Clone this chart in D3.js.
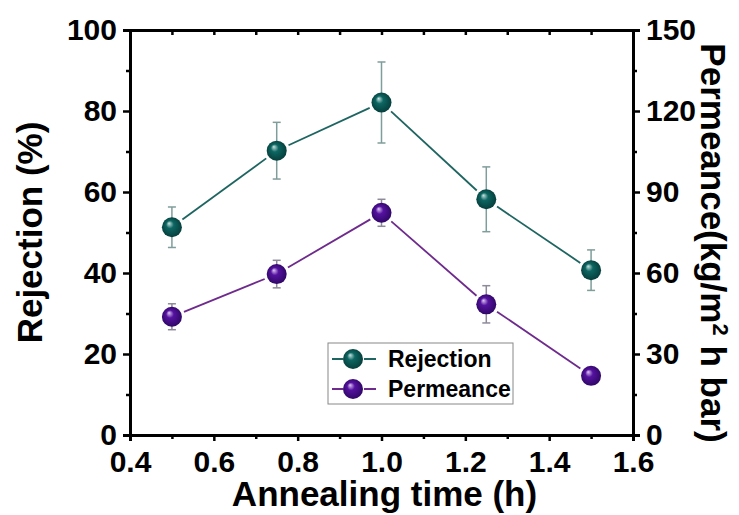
<!DOCTYPE html>
<html>
<head>
<meta charset="utf-8">
<script src="https://cdn.jsdelivr.net/npm/d3@7"></script>
<style>
  body { margin: 0; background: #fff; }
  svg { font-family: "Liberation Sans", Arial, sans-serif; font-weight: bold; }
</style>
</head>
<body>
<div id="chart"></div>
<script>
// data
let times = [0.5, 0.75, 1.0, 1.25, 1.5];
let rejection = [51.3, 70.2, 82.1, 58.2, 40.7];
let rejectionErr = [5, 7, 10, 8, 5];
let permeance = [43.8, 59.6, 82.3, 48.4, 21.9];
let permeanceErr = [4.8, 5.1, 5, 6.9, 0.8];
let xTicks = [0.4, 0.6, 0.8, 1.0, 1.2, 1.4, 1.6];
let leftTicks = [0, 20, 40, 60, 80, 100];
let rightTicks = [0, 30, 60, 90, 120, 150];

let W = 739, H = 515;
let m = {left: 130, top: 30, right: 106, bottom: 80};
let w = W - m.left - m.right, h = H - m.top - m.bottom;
let r = 10;

let svg = d3.select("#chart").append("svg").attr("width", W).attr("height", H);

let defs = svg.append("defs");
function sphere(id, light, base, dark) {
  let g = defs.append("radialGradient").attr("id", id)
    .attr("cx", "50%").attr("cy", "50%").attr("r", "55%")
    .attr("fx", "35%").attr("fy", "30%");
  g.append("stop").attr("offset", "0%").attr("stop-color", light);
  g.append("stop").attr("offset", "35%").attr("stop-color", base);
  g.append("stop").attr("offset", "100%").attr("stop-color", dark);
}
sphere("gRej", "#c8e4e2", "#0d6662", "#053a38");
sphere("gPer", "#e0c8f4", "#5512a0", "#2c0660");

let x = d3.scaleLinear().domain([0.4, 1.6]).range([m.left, m.left + w]);
let yL = d3.scaleLinear().domain([0, 100]).range([m.top + h, m.top]);
let yR = d3.scaleLinear().domain([0, 150]).range([m.top + h, m.top]);

// minor ticks
let xMinor = d3.range(0.5, 1.6, 0.2);
let lMinor = d3.range(10, 100, 20);
let rMinor = d3.range(15, 150, 30);

function styleAxis(g) {
  g.selectAll(".domain").attr("stroke-width", 3);
  g.selectAll(".tick line").attr("stroke-width", 2.5);
  g.selectAll(".tick text").attr("font-size", 30).attr("font-weight", "bold");
}

// bottom
svg.append("g").attr("transform", `translate(0,${m.top + h})`)
  .call(d3.axisBottom(x).tickValues(xTicks).tickFormat(d3.format(".1f")).tickSizeOuter(0).tickSize(6).tickPadding(10))
  .call(styleAxis);
svg.append("g").attr("transform", `translate(0,${m.top + h})`)
  .call(d3.axisBottom(x).tickValues(xMinor).tickFormat("").tickSizeOuter(0).tickSize(4))
  .call(g => g.select(".domain").remove())
  .call(styleAxis);
// top
svg.append("g").attr("transform", `translate(0,${m.top})`)
  .call(d3.axisBottom(x).tickValues(xTicks.concat(xMinor)).tickFormat("").tickSizeOuter(0).tickSize(5))
  .call(styleAxis);
// left
svg.append("g").attr("transform", `translate(${m.left},0)`)
  .call(d3.axisLeft(yL).tickValues(leftTicks).tickSizeOuter(0).tickSize(7).tickPadding(6))
  .call(styleAxis);
svg.append("g").attr("transform", `translate(${m.left},0)`)
  .call(d3.axisLeft(yL).tickValues(lMinor).tickFormat("").tickSizeOuter(0).tickSize(4))
  .call(g => g.select(".domain").remove())
  .call(styleAxis);
// right
svg.append("g").attr("transform", `translate(${m.left + w},0)`)
  .call(d3.axisRight(yR).tickValues(rightTicks).tickSizeOuter(0).tickSize(7).tickPadding(6))
  .call(styleAxis);
svg.append("g").attr("transform", `translate(${m.left + w},0)`)
  .call(d3.axisRight(yR).tickValues(rMinor).tickFormat("").tickSizeOuter(0).tickSize(4))
  .call(g => g.select(".domain").remove())
  .call(styleAxis);

// titles
svg.append("text").attr("x", x(1.0) + 3).attr("y", 506).attr("text-anchor", "middle")
  .attr("font-size", 35).text("Annealing time (h)");
svg.append("text").attr("transform", `translate(42,${m.top + h / 2}) rotate(-90)`)
  .attr("text-anchor", "middle").attr("font-size", 35).text("Rejection (%)");
let rt = svg.append("text").attr("transform", `translate(701,243) rotate(90)`)
  .attr("text-anchor", "middle").attr("font-size", 35);
rt.append("tspan").text("Permeance(kg/m");
rt.append("tspan").attr("baseline-shift", "super").attr("font-size", 22).text("2");
rt.append("tspan").text(" h bar)");

// series
let series = [
  {name: "Rejection", vals: rejection, err: rejectionErr, y: yL, line: "#1e6561", errc: "#7f9d9a", grad: "gRej"},
  {name: "Permeance", vals: permeance, err: permeanceErr, y: yR, line: "#6e2a8c", errc: "#8e8a9a", grad: "gPer"}
];

series.forEach(s => {
  let pts = times.map((t, i) => [x(t), s.y(s.vals[i])]);
  // connecting segments stopping short of the markers
  for (let i = 0; i < pts.length - 1; i++) {
    let [x1, y1] = pts[i], [x2, y2] = pts[i + 1];
    let dx = x2 - x1, dy = y2 - y1, len = Math.hypot(dx, dy), gap = r + 3;
    svg.append("line")
      .attr("x1", x1 + dx / len * gap).attr("y1", y1 + dy / len * gap)
      .attr("x2", x2 - dx / len * gap).attr("y2", y2 - dy / len * gap)
      .attr("stroke", s.line).attr("stroke-width", 1.8);
  }
  // error bars
  let eb = svg.append("g").attr("stroke", s.errc).attr("stroke-width", 1.5);
  times.forEach((t, i) => {
    let lo = s.y(s.vals[i] - s.err[i]), hi = s.y(s.vals[i] + s.err[i]);
    eb.append("line").attr("x1", x(t)).attr("x2", x(t)).attr("y1", lo).attr("y2", hi);
    eb.append("line").attr("x1", x(t) - 4).attr("x2", x(t) + 4).attr("y1", lo).attr("y2", lo);
    eb.append("line").attr("x1", x(t) - 4).attr("x2", x(t) + 4).attr("y1", hi).attr("y2", hi);
  });
  svg.append("g").selectAll("circle").data(times).enter().append("circle")
    .attr("cx", d => x(d)).attr("cy", (d, i) => s.y(s.vals[i])).attr("r", r)
    .attr("fill", `url(#${s.grad})`);
});

// legend
let lg = svg.append("g").attr("transform", "translate(328,343)");
lg.append("rect").attr("width", 185).attr("height", 61)
  .attr("fill", "#fff").attr("stroke", "#888").attr("stroke-width", 1);
series.forEach((s, i) => {
  let cy = 16 + i * 30;
  lg.append("line").attr("x1", 4).attr("x2", 15).attr("y1", cy).attr("y2", cy).attr("stroke", s.line).attr("stroke-width", 2);
  lg.append("line").attr("x1", 36).attr("x2", 48).attr("y1", cy).attr("y2", cy).attr("stroke", s.line).attr("stroke-width", 2);
  lg.append("circle").attr("cx", 25).attr("cy", cy).attr("r", r).attr("fill", `url(#${s.grad})`);
  lg.append("text").attr("x", 60).attr("y", cy + 8).attr("font-size", 23).text(s.name);
});
</script>
</body>
</html>
